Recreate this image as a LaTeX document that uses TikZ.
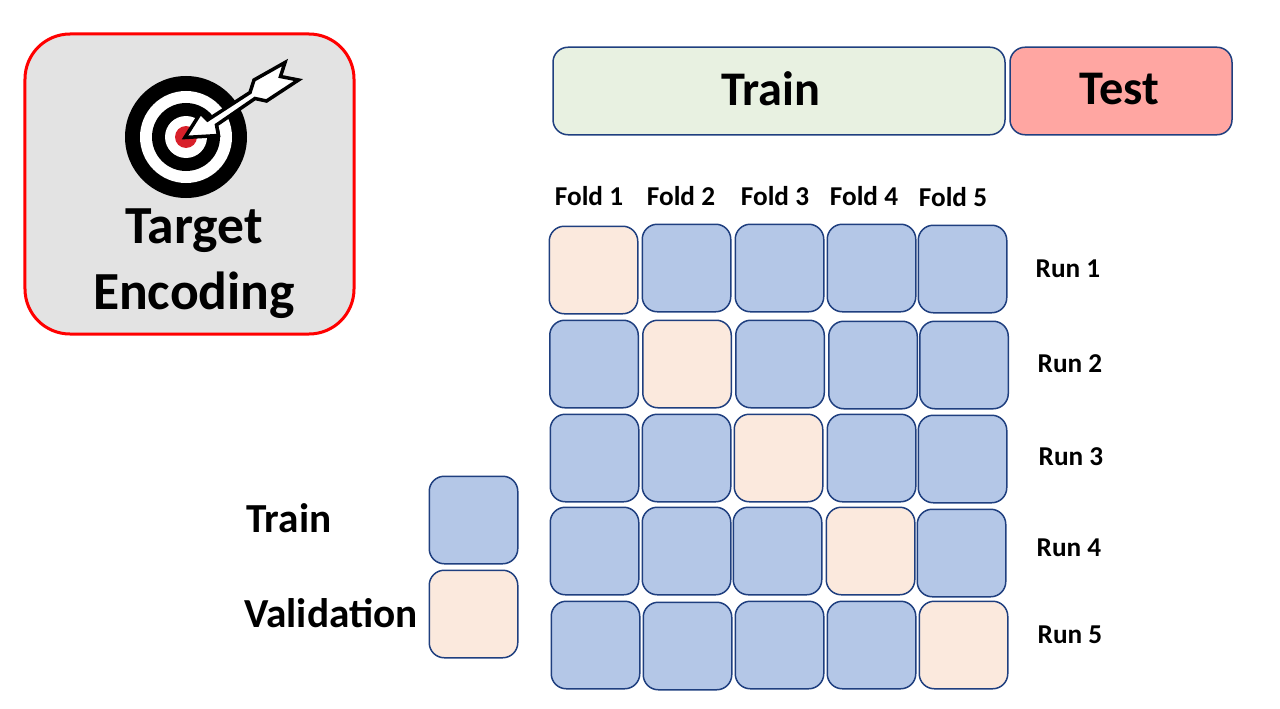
\documentclass[tikz,border=0pt]{standalone}
\usepackage{fontspec}
\setmainfont{Carlito}
\usepackage{tikz}
\usetikzlibrary{positioning, shapes.geometric}
\definecolor{edgeblue}{HTML}{1F3F7F}
\definecolor{cellblue}{HTML}{B4C7E7}
\definecolor{cellpeach}{HTML}{FBE9DD}
\definecolor{bargreen}{HTML}{E8F1E1}
\definecolor{barred}{HTML}{FFA6A2}
\definecolor{panelgrey}{HTML}{E3E3E3}
\definecolor{bullred}{HTML}{D8202A}
\tikzset{
  cell/.style={draw=edgeblue, line width=0.03cm, rounded corners=0.3cm, outer sep=0pt, inner sep=0pt, minimum width=1.77cm, minimum height=1.75cm},
  trainc/.style={cell, fill=cellblue},
  valc/.style={cell, fill=cellpeach},
  bar/.style={draw=edgeblue, line width=0.03cm, rounded corners=0.3cm, outer sep=0pt, minimum height=1.75cm},
  barlabel/.style={font=\fontsize{27.5}{30}\selectfont\bfseries},
  foldlabel/.style={font=\fontsize{15.5}{18}\selectfont\bfseries},
  legendlabel/.style={font=\fontsize{23.5}{26}\selectfont\bfseries},
  ring/.style={circle, inner sep=0pt, outer sep=0pt}
}
\begin{document}
\begin{tikzpicture}[node distance=0.09cm, auto]
\useasboundingbox (0,0) rectangle (25.6,14.16);
% panel with the target
\node (panel) [draw=red, fill=panelgrey, line width=0.06cm, rounded corners=0.9cm, minimum width=6.58cm, minimum height=6cm, outer sep=0pt] at (3.79,10.48) {};
\node (ringa) [ring, fill=black, minimum size=2.44cm] at (3.72,11.42) {};
\node (ringb) [ring, fill=white, minimum size=1.84cm] at (ringa) {};
\node (ringc) [ring, fill=black, minimum size=1.36cm] at (ringa) {};
\node (ringd) [ring, fill=white, minimum size=0.84cm] at (ringa) {};
\node (ringe) [ring, fill=bullred, minimum size=0.44cm] at (ringa) {};
\draw[fill=white, line width=0.07cm] (3.70,11.41) -- (4.01,11.90) -- (4.15,11.76) -- (5.00,12.31) -- (5.08,12.56) -- (5.70,12.91) -- (5.61,12.63) -- (5.97,12.56) -- (5.33,12.14) -- (5.10,12.19) -- (4.33,11.66) -- (4.37,11.45) -- cycle;
\node (title) [align=center, font=\fontsize{30.5}{37.4}\selectfont\bfseries] at (3.88,8.88) {Target\\Encoding};
% bars on top
\node (trainbar) [bar, fill=bargreen, minimum width=9.04cm] at (15.58,12.34) {};
\node (testbar) [bar, fill=barred, minimum width=4.44cm, right=0.10cm of trainbar] {};
\node (trainlabel) [barlabel] at (15.42,12.38) {Train};
\node (testlabel) [barlabel] at (22.39,12.38) {Test};
% run 1
\node (r1f1) [valc] at (11.87,8.76) {};
\node (r1f2) [trainc, right=of r1f1, yshift=0.04cm] {};
\node (r1f3) [trainc, right=of r1f2] {};
\node (r1f4) [trainc, right=0.07cm of r1f3] {};
\node (r1f5) [trainc, right=0.05cm of r1f4, yshift=-0.02cm] {};
% run 2
\node (r2f1) [trainc] at (11.88,6.88) {};
\node (r2f2) [valc, right=of r2f1] {};
\node (r2f3) [trainc, right=of r2f2] {};
\node (r2f4) [trainc, right=of r2f3, yshift=-0.02cm] {};
\node (r2f5) [trainc, right=0.05cm of r2f4] {};
% run 3
\node (r3f1) [trainc] at (11.89,5.00) {};
\node (r3f2) [trainc, right=0.07cm of r3f1] {};
\node (r3f3) [valc, right=0.07cm of r3f2] {};
\node (r3f4) [trainc, right=of r3f3] {};
\node (r3f5) [trainc, right=0.05cm of r3f4, yshift=-0.02cm] {};
% run 4
\node (r4f1) [trainc] at (11.89,3.14) {};
\node (r4f2) [trainc, right=0.07cm of r4f1] {};
\node (r4f3) [trainc, right=0.05cm of r4f2] {};
\node (r4f4) [valc, right=of r4f3] {};
\node (r4f5) [trainc, right=0.05cm of r4f4, yshift=-0.04cm] {};
% run 5
\node (r5f1) [trainc] at (11.91,1.26) {};
\node (r5f2) [trainc, right=0.07cm of r5f1, yshift=-0.02cm] {};
\node (r5f3) [trainc, right=0.07cm of r5f2, yshift=0.02cm] {};
\node (r5f4) [trainc, right=0.07cm of r5f3] {};
\node (r5f5) [valc, right=0.07cm of r5f4] {};
% fold labels
\node (fold1) [foldlabel] at (11.78,10.24) {Fold 1};
\node (fold2) [foldlabel] at (13.62,10.24) {Fold 2};
\node (fold3) [foldlabel] at (15.50,10.24) {Fold 3};
\node (fold4) [foldlabel] at (17.28,10.24) {Fold 4};
\node (fold5) [foldlabel] at (19.06,10.22) {Fold 5};
% run labels
\node (run1) [foldlabel] at (21.36,8.78) {Run 1};
\node (run2) [foldlabel] at (21.40,6.88) {Run 2};
\node (run3) [foldlabel] at (21.42,5.02) {Run 3};
\node (run4) [foldlabel] at (21.38,3.20) {Run 4};
\node (run5) [foldlabel] at (21.40,1.46) {Run 5};
% legend
\node (legtrain) [trainc] at (9.47,3.76) {};
\node (legval) [valc, below=0.13cm of legtrain] {};
\node (legtraintext) [legendlabel] at (5.78,3.80) {Train};
\node (legvaltext) [legendlabel] at (6.62,1.90) {Validation};
\end{tikzpicture}
\end{document}
